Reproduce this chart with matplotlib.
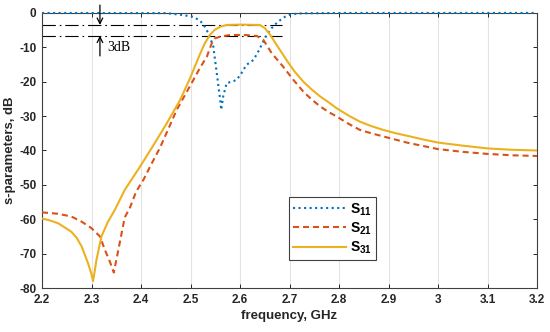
import numpy as np
import matplotlib.pyplot as plt

# values (frequency in GHz, level in dB)
f_s11 = [2.20, 2.45, 2.479, 2.505, 2.519, 2.528, 2.536, 2.546, 2.553, 2.560, 2.562,
         2.566, 2.573, 2.583, 2.593, 2.603, 2.613, 2.627, 2.637, 2.647, 2.654,
         2.664, 2.677, 2.691, 2.701, 2.715, 2.730, 2.80, 3.20]
s11 = [0.0, -0.05, -0.5, -1.1, -2.2, -3.8, -5.9, -9.7, -17.5, -25.3, -28.2,
       -24.3, -20.4, -20.0, -19.5, -17.5, -15.1, -13.7, -11.2, -8.3, -6.4,
       -4.4, -2.5, -1.1, -0.5, -0.2, -0.1, 0.0, 0.0]

f_s21 = [2.200, 2.232, 2.259, 2.280, 2.300, 2.317, 2.327, 2.337, 2.345, 2.353,
         2.367, 2.378, 2.390, 2.405, 2.420, 2.438, 2.455, 2.472, 2.486, 2.500,
         2.519, 2.533, 2.543, 2.549, 2.560, 2.580, 2.610, 2.634, 2.647, 2.664,
         2.687, 2.708, 2.728, 2.745, 2.762, 2.780, 2.795, 2.820, 2.842, 2.865,
         2.889, 2.937, 2.970, 3.000, 3.050, 3.100, 3.150, 3.200]
s21 = [-58.0, -58.4, -59.2, -60.7, -62.6, -65.0, -68.9, -72.3, -75.5, -69.8,
       -59.5, -56.5, -52.0, -48.5, -44.2, -39.3, -33.8, -28.2, -24.6, -21.0,
       -16.0, -12.7, -8.8, -7.4, -6.9, -6.4, -6.4, -6.7, -7.8, -11.7,
       -15.6, -19.5, -22.9, -25.2, -27.2, -28.9, -30.1, -32.3, -34.0, -35.0,
       -35.9, -37.7, -38.7, -39.6, -40.4, -41.0, -41.4, -41.6]

f_s31 = [2.200, 2.215, 2.233, 2.259, 2.270, 2.280, 2.293, 2.300, 2.303, 2.306,
         2.310, 2.320, 2.333, 2.347, 2.367, 2.398, 2.425, 2.452, 2.479, 2.499,
         2.519, 2.529, 2.539, 2.549, 2.560, 2.573, 2.600, 2.640, 2.650, 2.661,
         2.674, 2.694, 2.710, 2.728, 2.745, 2.762, 2.780, 2.795, 2.820, 2.842,
         2.865, 2.889, 2.915, 2.943, 2.970, 3.000, 3.050, 3.100, 3.150, 3.200]
s31 = [-59.8, -60.3, -61.2, -63.6, -65.4, -67.9, -72.8, -76.0, -78.0, -75.5,
       -71.8, -65.0, -60.8, -57.3, -51.5, -44.7, -38.5, -32.1, -25.3, -19.0,
       -12.0, -8.8, -6.4, -4.9, -4.0, -3.5, -3.4, -3.5, -4.4, -6.4,
       -9.3, -13.7, -17.0, -20.0, -22.3, -24.3, -26.1, -27.7, -29.9, -31.6,
       -32.9, -34.0, -35.0, -35.9, -36.8, -37.7, -38.6, -39.4, -39.8, -40.0]

level_hi = -3.5
level_lo = -6.6
x_ticks = [2.2, 2.3, 2.4, 2.5, 2.6, 2.7, 2.8, 2.9, 3.0, 3.1, 3.2]
x_labels = ['2.2', '2.3', '2.4', '2.5', '2.6', '2.7', '2.8', '2.9', '3', '3.1', '3.2']
y_ticks = [-80, -70, -60, -50, -40, -30, -20, -10, 0]

plt.rcParams['font.family'] = ['Liberation Sans', 'DejaVu Sans']
plt.rcParams['axes.unicode_minus'] = False
plt.rcParams['mathtext.fontset'] = 'custom'
plt.rcParams['mathtext.bf'] = 'Liberation Sans:bold'
plt.rcParams['mathtext.rm'] = 'Liberation Sans'

fig = plt.figure(figsize=(5.5, 3.32), dpi=100)
ax = fig.add_axes([0.0764, 0.1325, 0.9, 0.8285])

ax.plot(f_s11, s11, color='#0072BD', ls=':', lw=1.5, label=r'$\mathbf{S_{11}}$', clip_on=False, zorder=3)
ax.plot(f_s21, s21, color='#D95319', ls='--', dashes=(2.9, 1.9), lw=1.5, label=r'$\mathbf{S_{21}}$', zorder=3)
ax.plot(f_s31, s31, color='#EDB120', ls='-', lw=1.5, label=r'$\mathbf{S_{31}}$', zorder=3)

# 3 dB markers
for lvl in (level_hi, level_lo):
    ax.plot([2.2, 2.685], [lvl, lvl], color='black', lw=0.8, ls=(0, (12, 3.5, 1.5, 3.5)), zorder=2)
ax.annotate('', xy=(2.317, level_hi), xytext=(2.317, 2.3), annotation_clip=False,
            arrowprops=dict(arrowstyle='->', color='black', lw=0.9, shrinkA=0, shrinkB=0))
ax.annotate('', xy=(2.317, level_lo), xytext=(2.317, -12.5), annotation_clip=False,
            arrowprops=dict(arrowstyle='->', color='black', lw=0.9, shrinkA=0, shrinkB=0))
ax.text(2.331, -10.0, '3dB', family='Liberation Serif', fontsize=10, va='center', ha='left')

ax.set_xlim(2.2, 3.2)
ax.set_ylim(-80, 0)
ax.set_xticks(x_ticks)
ax.set_xticklabels(x_labels)
ax.set_yticks(y_ticks)
ax.tick_params(direction='in', length=3, width=0.7, top=True, right=True,
               labelsize=8.5, colors='#262626', pad=4)
for lab in ax.get_xticklabels() + ax.get_yticklabels():
    lab.set_fontweight('bold')
ax.grid(axis='x', color='#e3e3e3', lw=0.8)
ax.set_axisbelow(True)
for sp in ax.spines.values():
    sp.set_color('#404040')
    sp.set_linewidth(0.8)

ax.set_xlabel('frequency, GHz', fontsize=9.5, fontweight='bold', color='#262626', labelpad=3)
ax.set_ylabel('s-parameters, dB', fontsize=9.5, fontweight='bold', color='#262626', labelpad=2)

leg = ax.legend(loc='upper left', bbox_to_anchor=(0.499, 0.331), borderaxespad=0,
                fancybox=False, framealpha=1, edgecolor='#404040', fontsize=10,
                handlelength=3.8, borderpad=0.3, labelspacing=0.2, handletextpad=0.3)
leg.get_frame().set_linewidth(0.8)

fig.savefig('out.png', dpi=100)
